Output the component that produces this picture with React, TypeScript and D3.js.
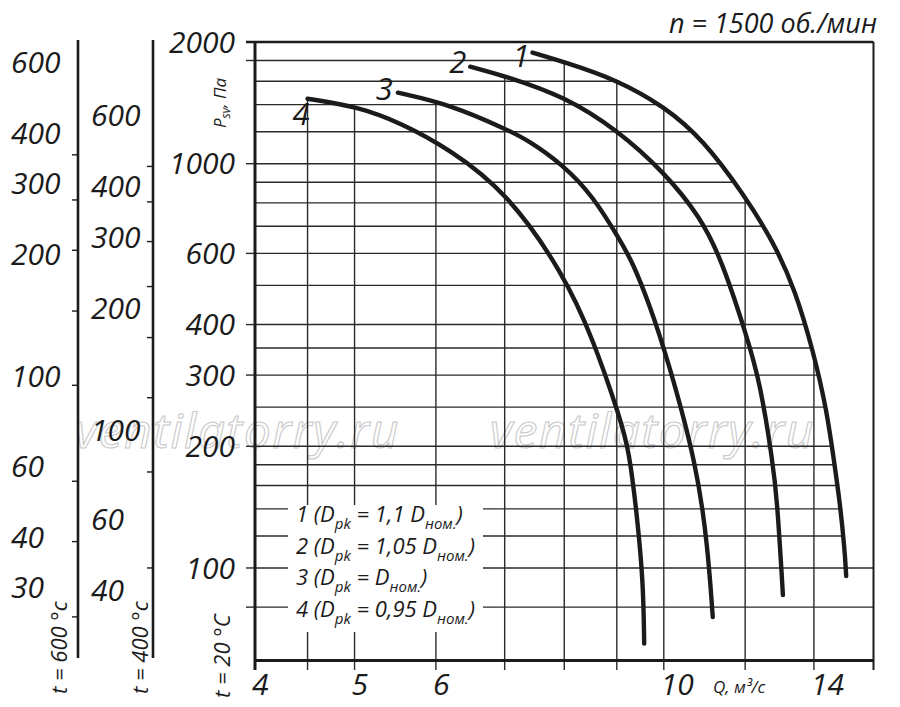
import * as d3 from "d3";

// Q, m3/s  (log axis)
const qLabels = [4, 5, 6, 10, 14];
const qGrid = [4.5, 5, 6, 7, 8, 9, 10, 12, 14];
const qMin = 4;
const qMax = 16;

// Psv, Pa at t = 20 C (log axis)
const pLabels = [2000, 1000, 600, 400, 300, 200, 100];
const pGrid = [80, 100, 120, 140, 160, 180, 200, 250, 300, 350, 400, 500, 600, 700, 800, 900, 1000, 1200, 1400, 1600, 1800];
const pMarks = [1800, 1000, 600, 400, 300, 200, 100, 80];
const pMin = 59;
const pMax = 2000;

// side scales for hot gas
const k600 = 293 / 873;
const t600Labels = [600, 400, 300, 200, 100, 60, 40, 30];
const t600Marks = [353, 273, 205, 145, 95, 55, 39, 25.4];
const k400 = 0.455;
const t400Labels = [600, 400, 300, 200, 100, 60, 40];
const t400Marks = [448, 366, 292, 226, 169, 120, 78.6, 45.5];

// curves
const curve1Q = [7.45, 7.98, 9.0, 10.02, 10.92, 11.97, 12.8, 13.42, 13.97, 14.41, 14.67, 14.83, 15.0, 15.05];
const curve1P = [1883, 1788, 1614, 1384, 1147, 838, 637, 488, 346, 246, 178, 147, 111, 95.5];
const curve2Q = [6.48, 7.04, 8.01, 9.0, 10.02, 10.85, 11.38, 12.05, 12.41, 12.77, 12.89, 13.03, 13.06];
const curve2P = [1738, 1642, 1465, 1214, 950, 739, 580, 373, 287, 182, 147, 95, 85.7];
const curve3Q = [5.51, 6.2, 7.04, 7.36, 7.98, 8.54, 9.06, 9.33, 9.7, 10.07, 10.78, 11.04, 11.16];
const curve3P = [1499, 1400, 1214, 1147, 994, 829, 648, 569, 443, 333, 178, 111, 75.6];
const curve4Q = [4.5, 5.03, 5.54, 6.2, 7.04, 7.98, 8.54, 9.06, 9.25, 9.42, 9.55, 9.57];
const curve4P = [1448, 1384, 1263, 1083, 848, 537, 367, 236, 196, 134, 92, 65];

const curveNames = ["1", "2", "3", "4"];
const legendNums = ["1", "2", "3", "4"];
const legendK = ["1,1 ", "1,05 ", "", "0,95 "];

const W = 900;
const H = 707;
const FONT = "'Open Sans', 'DejaVu Sans', sans-serif";
const INK = "#1b1b1b";

const x = d3.scaleLog().domain([qMin, qMax]).range([255, 873.5]);
const y = d3.scaleLog().domain([pMin, pMax]).range([660.6, 42]);

type Pt = { q: number; p: number };
const zip = (qs: number[], ps: number[]): Pt[] => qs.map((q, i) => ({ q, p: ps[i] }));
const curves = [zip(curve1Q, curve1P), zip(curve2Q, curve2P), zip(curve3Q, curve3P), zip(curve4Q, curve4P)];

// log-log interpolation along a curve
function pAt(c: Pt[], q: number): number | null {
    for (let i = 0; i < c.length - 1; i++) {
        const a = c[i], b = c[i + 1];
        if (q >= a.q - 1e-9 && q <= b.q + 1e-9) {
            const t = (Math.log(q) - Math.log(a.q)) / (Math.log(b.q) - Math.log(a.q));
            return Math.exp(Math.log(a.p) + t * (Math.log(b.p) - Math.log(a.p)));
        }
    }
    return null;
}
function qAt(c: Pt[], p: number): number | null {
    for (let i = 0; i < c.length - 1; i++) {
        const a = c[i], b = c[i + 1];
        if (p <= a.p && p >= b.p) {
            const t = (Math.log(p) - Math.log(a.p)) / (Math.log(b.p) - Math.log(a.p));
            return Math.exp(Math.log(a.q) + t * (Math.log(b.q) - Math.log(a.q)));
        }
    }
    return null;
}

// B-spline smooths out the reading noise
const line = d3
    .line<Pt>()
    .x((d) => x(d.q))
    .y((d) => y(d.p))
    .curve(d3.curveBasis);

export default function App() {
    const [x0, x1] = x.range();
    const [y0, y1] = y.range(); // y0 bottom, y1 top
    const outer = curves[0];
    const kneeP = outer[outer.length - 2].p;

    // horizontal grid: from the axis to the outer curve
    const hLines = pGrid.map((v) => {
        const q = v < kneeP ? null : qAt(outer, v);
        return { v, xe: q == null ? x1 : x(q) };
    });
    // vertical grid: from the axis up to the highest curve
    const vLines = qGrid.map((q) => {
        const ps = curves.map((c) => pAt(c, q)).filter((p): p is number => p != null);
        return { q, ye: ps.length ? y(d3.max(ps)!) : y1 };
    });

    const labelOffsets = [
        { dx: -3, dy: 14 },
        { dx: -4, dy: 6 },
        { dx: -5, dy: 7 },
        { dx: 2, dy: 26 },
    ];

    return (
        <svg width={W} height={H} style={{ position: "absolute", left: 0, top: 0, background: "#fff" }} fontFamily={FONT}>
            <rect width={W} height={H} fill="#fff" />

            {/* watermark */}
            <g fontStyle="italic" fontSize={48} letterSpacing={1.5} fill="none" stroke="#c9c9c9" strokeWidth={1.1}>
                <text x={75} y={448}>ventilatorry.ru</text>
                <text x={490} y={448}>ventilatorry.ru</text>
            </g>

            {/* grid */}
            <g stroke="#2a2a2a" strokeWidth={1.4}>
                {hLines.map((d) => (
                    <line key={"h" + d.v} x1={x0} x2={d.xe} y1={y(d.v)} y2={y(d.v)} />
                ))}
                {vLines.map((d) => (
                    <line key={"v" + d.q} x1={x(d.q)} x2={x(d.q)} y1={y0 + 9.5} y2={d.ye} />
                ))}
                {pMarks.map((v) => (
                    <line key={"pm" + v} x1={x0 - 9} x2={x0} y1={y(v)} y2={y(v)} />
                ))}
            </g>

            {/* frame and axes */}
            <g stroke={INK} fill="none">
                <line x1={x0 - 9} x2={x1} y1={y1} y2={y1} strokeWidth={2.6} />
                <line x1={x1} x2={x1} y1={y1} y2={y0 + 9.5} strokeWidth={2} />
                <line x1={x0} x2={x0} y1={y1} y2={y0 + 9.5} strokeWidth={3} />
                <line x1={x0} x2={x1} y1={y0} y2={y0} strokeWidth={3} />
            </g>

            {/* legend box */}
            <rect x={288} y={505} width={195} height={127} fill="#fff" />
            <g fontStyle="italic" fontSize={22} fill={INK}>
                {legendNums.map((n, i) => (
                    <text key={n} x={296} y={522 + i * 31.7}>
                        {n} (D
                        <tspan fontSize={15} dy={7}>pk</tspan>
                        <tspan dy={-7}> = {legendK[i]}D</tspan>
                        <tspan fontSize={15} dy={7}>ном.</tspan>
                        <tspan dy={-7}>)</tspan>
                    </text>
                ))}
            </g>

            {/* curves */}
            <g fill="none" stroke={INK} strokeWidth={4.4} strokeLinecap="round">
                {curves.map((c, i) => (
                    <path key={i} d={line(c) ?? ""} />
                ))}
            </g>
            <g fontStyle="italic" fontSize={31} fill={INK} textAnchor="end">
                {curves.map((c, i) => (
                    <text key={i} x={x(c[0].q) + labelOffsets[i].dx} y={y(c[0].p) + labelOffsets[i].dy}>
                        {curveNames[i]}
                    </text>
                ))}
            </g>

            {/* main y labels */}
            <g fontStyle="italic" fontSize={30} fill={INK} textAnchor="end">
                {pLabels.map((v) => (
                    <text key={v} x={235} y={y(v)} dy="0.36em">{v}</text>
                ))}
            </g>

            {/* x labels */}
            <g fontStyle="italic" fontSize={30} fill={INK} textAnchor="start">
                {qLabels.map((q) => (
                    <text key={q} x={x(q) - 3} y={695}>{q}</text>
                ))}
            </g>
            <text x={713} y={693} fontStyle="italic" fontSize={17} fill={INK}>Q, м³/с</text>

            {/* side scales */}
            <g stroke={INK}>
                <line x1={78} x2={78} y1={40} y2={658} strokeWidth={2.6} />
                <line x1={153} x2={153} y1={40} y2={658} strokeWidth={2.6} />
                {t600Marks.map((v) => (
                    <line key={"a" + v} x1={72} x2={78} y1={y(v / k600)} y2={y(v / k600)} strokeWidth={1.4} />
                ))}
                {t400Marks.map((v) => (
                    <line key={"b" + v} x1={147} x2={153} y1={y(v / k400)} y2={y(v / k400)} strokeWidth={1.4} />
                ))}
            </g>
            <g fontStyle="italic" fontSize={30} fill={INK} textAnchor="start">
                {t600Labels.map((v) => (
                    <text key={"a" + v} x={11} y={y(v / k600)} dy="0.36em">{v}</text>
                ))}
                {t400Labels.map((v) => (
                    <text key={"b" + v} x={91} y={y(v / k400)} dy="0.36em">{v}</text>
                ))}
            </g>

            {/* rotated titles */}
            <g fontStyle="italic" fontSize={22} fill={INK}>
                <text transform="translate(67,694) rotate(-90)">t = 600 °c</text>
                <text transform="translate(148,694) rotate(-90)">t = 400 °c</text>
                <text transform="translate(230,698) rotate(-90)">t = 20 °C</text>
                <text transform="translate(226,128) rotate(-90)" fontSize={17}>
                    P<tspan fontSize={12} dy={4}>sv</tspan>
                    <tspan dy={-4}>, Па</tspan>
                </text>
            </g>

            <text x={877} y={33} textAnchor="end" fontStyle="italic" fontSize={27} fill={INK}>
                n = 1500 об./мин
            </text>
        </svg>
    );
}
